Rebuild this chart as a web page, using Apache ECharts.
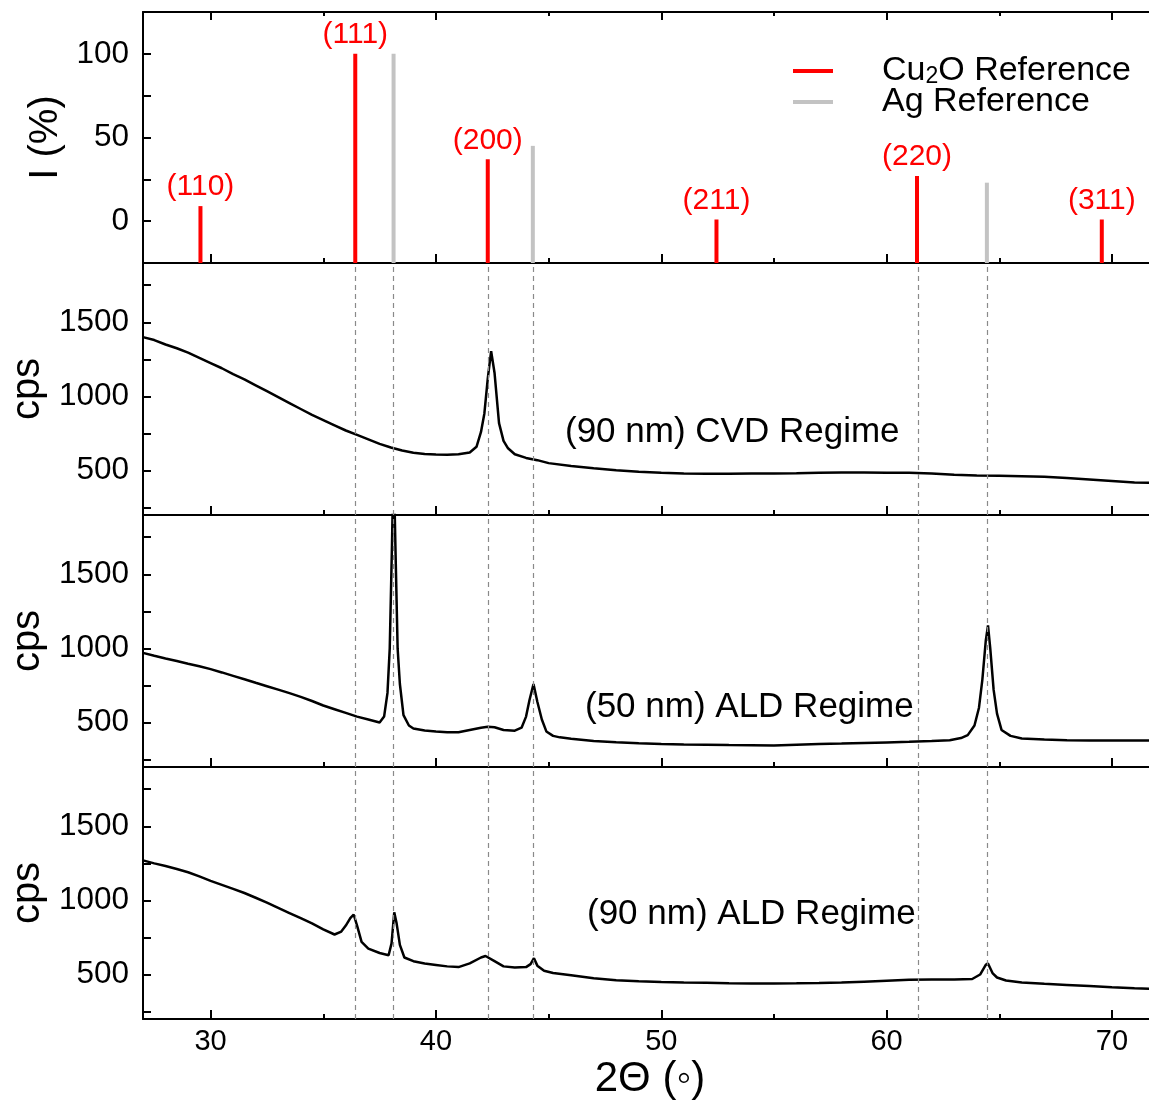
<!DOCTYPE html>
<html><head><meta charset="utf-8">
<script src="https://cdn.jsdelivr.net/npm/echarts@6/dist/echarts.min.js"></script>
<style>html,body{margin:0;padding:0;background:#fff;}#c{width:1149px;height:1103px;}</style>
</head><body><div id="c"></div>
<script>
// ---------- data ----------
const cu2oPos = [29.55, 36.42, 42.30, 52.45, 61.35, 69.55];
const cu2oInt = [9, 100, 37, 1, 27, 1];
const cu2oHkl = ['(110)', '(111)', '(200)', '(211)', '(220)', '(311)'];
const agPos = [38.12, 44.30, 64.45];
const agInt = [100, 45, 23];
const guideLines = [36.42, 38.12, 42.30, 44.30, 61.40, 64.45];

const xMajor = [30, 40, 50, 60, 70];
const xMinor = [35, 45, 55, 65];
const refTicks = [0, 25, 50, 75, 100];
const refLabels = [0, 50, 100];
const cpsTicks = [250, 500, 750, 1000, 1250, 1500, 1750];
const cpsLabels = [500, 1000, 1500];
const regimeLabels = ['(90 nm) CVD Regime', '(50 nm) ALD Regime', '(90 nm) ALD Regime'];

const cvd90 = [
 [27.0,1400],[27.5,1380],[28.0,1350],[28.5,1325],[29.0,1295],[29.5,1260],[30.0,1225],[30.5,1190],
 [31.0,1150],[31.5,1115],[32.0,1075],[32.5,1035],[33.0,995],[33.5,955],[34.0,915],[34.5,875],
 [35.0,840],[35.5,805],[36.0,770],[36.5,740],[37.0,710],[37.5,680],[38.0,655],[38.5,635],
 [39.0,620],[39.5,612],[40.0,608],[40.5,607],[41.0,610],[41.5,622],[41.8,660],[42.0,760],
 [42.15,885],[42.3,1120],[42.45,1305],[42.6,1160],[42.8,820],[43.0,700],[43.2,650],[43.5,610],
 [44.0,585],[44.5,570],[45.0,550],[46.0,530],[47.0,515],[48.0,502],[49.0,492],[50.0,485],
 [51.0,480],[52.0,478],[53.0,478],[54.0,480],[55.0,480],[56.0,482],[57.0,485],[58.0,486],
 [59.0,486],[60.0,485],[61.0,485],[62.0,480],[63.0,472],[64.0,467],[65.0,465],[66.0,462],
 [67.0,458],[68.0,450],[69.0,440],[70.0,430],[71.0,420],[72.0,415]
];
const ald50 = [
 [27.0,970],[27.5,950],[28.0,932],[28.5,915],[29.0,897],[29.5,880],[30.0,860],[30.5,838],
 [31.0,815],[31.5,792],[32.0,768],[32.5,745],[33.0,722],[33.5,698],[34.0,673],[34.5,645],
 [35.0,615],[35.5,590],[36.0,565],[36.5,540],[37.0,520],[37.5,500],[37.7,540],[37.85,700],
 [37.95,1000],[38.05,1700],[38.12,2300],[38.2,1700],[38.3,1000],[38.4,760],[38.56,550],[38.8,480],
 [39.0,460],[39.5,446],[40.0,440],[40.5,435],[41.0,435],[41.5,450],[42.0,465],[42.3,472],
 [42.6,468],[43.0,450],[43.5,445],[43.8,465],[44.0,540],[44.15,650],[44.33,760],[44.5,640],
 [44.7,520],[44.9,440],[45.2,410],[45.5,400],[46.0,390],[47.0,375],[48.0,367],[49.0,360],
 [50.0,355],[51.0,352],[52.0,350],[53.0,348],[54.0,347],[55.0,345],[56.0,350],[57.0,355],
 [58.0,358],[59.0,362],[60.0,366],[61.0,370],[62.0,375],[62.8,380],[63.3,395],[63.6,415],
 [63.9,480],[64.1,600],[64.25,790],[64.4,1050],[64.5,1155],[64.6,1000],[64.75,720],[64.9,560],
 [65.1,450],[65.5,410],[66.0,392],[67.0,385],[68.0,380],[69.0,378],[70.0,378],[71.0,378],[72.0,378]
];
const ald90 = [
 [27.0,1270],[27.5,1250],[28.0,1232],[28.5,1212],[29.0,1190],[29.5,1162],[30.0,1132],[30.5,1105],
 [31.0,1078],[31.5,1050],[32.0,1018],[32.5,985],[33.0,950],[33.5,915],[34.0,880],[34.5,845],
 [35.0,805],[35.5,770],[35.8,790],[36.0,830],[36.2,880],[36.35,905],[36.5,830],[36.7,720],
 [37.0,675],[37.5,645],[37.9,630],[38.03,710],[38.15,920],[38.25,850],[38.4,700],[38.6,615],
 [39.0,590],[39.5,575],[40.0,565],[40.5,555],[41.0,550],[41.5,575],[42.0,615],[42.2,625],
 [42.6,590],[43.0,555],[43.5,548],[44.0,550],[44.2,570],[44.35,610],[44.5,560],[44.8,525],
 [45.2,510],[46.0,495],[47.0,475],[48.0,462],[49.0,455],[50.0,450],[51.0,447],[52.0,445],
 [53.0,442],[54.0,440],[55.0,440],[56.0,441],[57.0,443],[58.0,446],[59.0,452],[60.0,458],
 [61.0,464],[62.0,466],[63.0,466],[63.8,470],[64.15,500],[64.4,565],[64.5,575],[64.7,510],
 [64.9,480],[65.3,460],[66.0,447],[67.0,438],[68.0,430],[69.0,422],[70.0,414],[71.0,407],[72.0,403]
];

// ---------- chart ----------
const FONT = '"Liberation Sans", Arial, sans-serif';
const XMIN = 27, XMAX = 72, REFMIN = -25, REFMAX = 125, CPSMIN = 200, CPSMAX = 1900;
const GL = 143, GW = 1014;
const grids = [
  {left: GL, width: GW, top: 12, height: 251, outerBoundsMode: 'none', containLabel: false},
  {left: GL, width: GW, top: 263, height: 252, outerBoundsMode: 'none', containLabel: false},
  {left: GL, width: GW, top: 515, height: 252, outerBoundsMode: 'none', containLabel: false},
  {left: GL, width: GW, top: 767, height: 252, outerBoundsMode: 'none', containLabel: false}
];
const black = '#000';
const plain = v => String(v);
const xAxes = [];
const mainX = [];
function addX(gi, pos, ticks, len, showLine, showLabel) {
  const ax = {
    type: 'value', gridIndex: gi, min: XMIN, max: XMAX, position: pos,
    axisLine: {show: showLine, onZero: false, lineStyle: {color: black, width: 2}},
    axisTick: {show: true, inside: true, length: len, customValues: ticks, lineStyle: {color: black, width: 2}},
    axisLabel: {show: showLabel, customValues: xMajor, formatter: plain, color: black, fontSize: 29, fontFamily: FONT, margin: 8},
    splitLine: {show: false}
  };
  if (showLabel) {
    ax.name = '2\u0398 (\u25E6)';
    ax.nameLocation = 'middle';
    ax.nameGap = 39;
    ax.nameTextStyle = {color: black, fontSize: 42, fontFamily: FONT};
  }
  xAxes.push(ax);
  return xAxes.length - 1;
}
for (let i = 0; i < 4; i++) {
  mainX[i] = addX(i, 'bottom', xMajor, 9, true, i === 3);
  addX(i, 'bottom', xMinor, 5, false, false);
}
addX(0, 'top', xMajor, 8, true, false);
addX(0, 'top', xMinor, 4, false, false);

const yAxes = [];
const mainY = [];
for (let i = 0; i < 4; i++) {
  const isRef = i === 0;
  const base = {
    type: 'value', gridIndex: i,
    min: isRef ? REFMIN : CPSMIN, max: isRef ? REFMAX : CPSMAX,
    axisLine: {show: true, onZero: false, lineStyle: {color: black, width: 2}},
    axisTick: {show: true, inside: true, length: 8, customValues: isRef ? refTicks : cpsTicks, lineStyle: {color: black, width: 2}},
    splitLine: {show: false}
  };
  yAxes.push(Object.assign({}, base, {
    position: 'left',
    axisLabel: {show: true, customValues: isRef ? refLabels : cpsLabels, formatter: plain, color: black, fontSize: 31.5, fontFamily: FONT, margin: 14},
    name: isRef ? 'I (%)' : 'cps', nameLocation: 'middle', nameGap: isRef ? 73 : 94,
    nameTextStyle: {color: black, fontSize: 40, fontFamily: FONT}
  }));
  mainY[i] = yAxes.length - 1;
  yAxes.push(Object.assign({}, base, {position: 'right', axisLabel: {show: false}}));
}

function stickSeries(name, pos, vals, color, labels) {
  return {
    type: 'custom', name: name, xAxisIndex: mainX[0], yAxisIndex: mainY[0],
    itemStyle: {color: color},
    data: pos.map((p, k) => [p, vals[k]]),
    renderItem: function (params, api) {
      const x = api.value(0), y = api.value(1);
      const top = api.coord([x, y]);
      const bot = api.coord([x, REFMIN]);
      const children = [{type: 'line', shape: {x1: top[0], y1: top[1], x2: bot[0], y2: bot[1]},
        style: {stroke: color, lineWidth: 4}}];
      if (labels) {
        children.push({type: 'text', x: top[0], y: top[1] - 4,
          style: {text: labels[params.dataIndex], fill: color, fontSize: 30, fontFamily: FONT,
            align: 'center', verticalAlign: 'bottom'}});
      }
      return {type: 'group', children: children};
    },
    z: 3
  };
}

function curve(gi, data) {
  return {
    type: 'line', xAxisIndex: mainX[gi], yAxisIndex: mainY[gi], data: data,
    showSymbol: false, symbol: 'none', clip: true,
    lineStyle: {color: black, width: 2.5}, z: 4,
    markLine: {silent: true, symbol: ['none', 'none'], label: {show: false},
      lineStyle: {color: '#8a8a8a', type: [5, 4], width: 1.2},
      data: guideLines.map(v => ({xAxis: v})), animation: false}
  };
}

const option = {
  backgroundColor: '#fff',
  animation: false,
  grid: grids,
  xAxis: xAxes,
  yAxis: yAxes,
  legend: {
    data: ['Cu2O Reference', 'Ag Reference'],
    orient: 'vertical', left: 793, top: 54, padding: 0, itemWidth: 40, itemHeight: 4, icon: 'rect',
    itemGap: -3, selectedMode: false,
    formatter: function (n) {
      return n === 'Cu2O Reference' ? '{pad|}{m|Cu}{s|2}{m|O Reference}' : '{pad|}{m|Ag Reference}';
    },
    textStyle: {color: black, fontFamily: FONT, fontSize: 34,
      rich: {
        pad: {width: 44},
        m: {fontSize: 34, lineHeight: 30, fontFamily: FONT, color: black},
        s: {fontSize: 23, lineHeight: 10, verticalAlign: 'bottom', fontFamily: FONT, color: black}
      }}
  },
  graphic: [
    {type: 'text', x: 565, y: 432, style: {text: regimeLabels[0], fontSize: 35, fontFamily: FONT, fill: black, verticalAlign: 'middle'}},
    {type: 'text', x: 585, y: 707, style: {text: regimeLabels[1], fontSize: 35, fontFamily: FONT, fill: black, verticalAlign: 'middle'}},
    {type: 'text', x: 587, y: 914, style: {text: regimeLabels[2], fontSize: 35, fontFamily: FONT, fill: black, verticalAlign: 'middle'}}
  ],
  series: [
    stickSeries('Cu2O Reference', cu2oPos, cu2oInt, '#ff0000', cu2oHkl),
    stickSeries('Ag Reference', agPos, agInt, '#c3c3c3', null),
    curve(1, cvd90),
    curve(2, ald50),
    curve(3, ald90)
  ]
};
const chart = echarts.init(document.getElementById('c'), null, {renderer: 'canvas'});
chart.setOption(option);
</script>
</body></html>
